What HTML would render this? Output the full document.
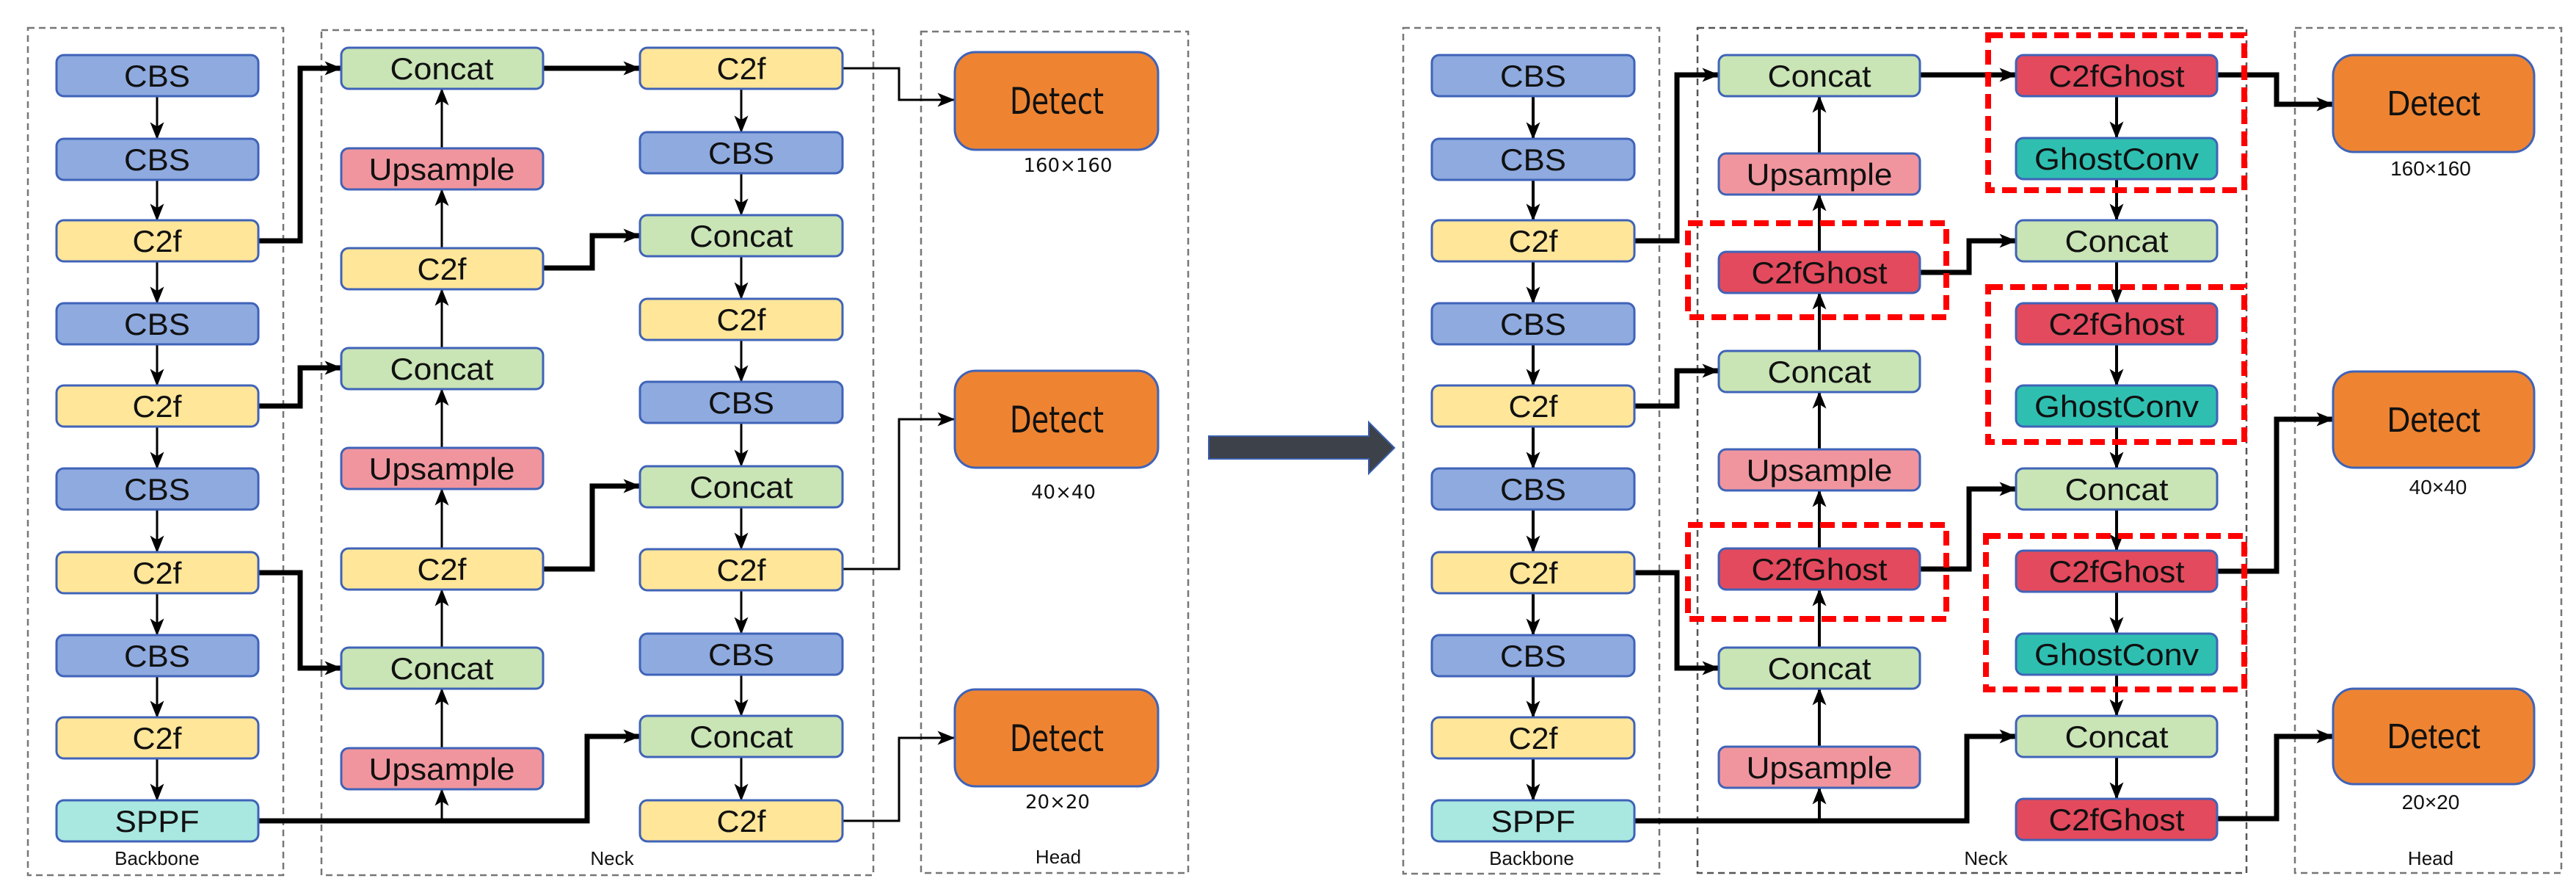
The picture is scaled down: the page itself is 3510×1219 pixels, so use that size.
<!DOCTYPE html>
<html><head><meta charset="utf-8"><style>html,body{margin:0;padding:0;background:#fff}svg{display:block}</style></head>
<body>
<svg width="3510" height="1219" viewBox="0 0 3510 1219" xmlns="http://www.w3.org/2000/svg" font-family="Liberation Sans, sans-serif">
<defs>
<marker id="a" markerWidth="10" markerHeight="10" refX="9" refY="5" orient="auto" markerUnits="userSpaceOnUse" viewBox="0 0 10 10">
</marker>
<marker id="ah" viewBox="0 0 20 16" refX="19" refY="8" markerWidth="24" markerHeight="19" orient="auto" markerUnits="userSpaceOnUse"><path d="M0,0 L20,8 L0,16 L5,8 Z" fill="#000"/></marker>
<style>
.f{fill:none;stroke:#777;stroke-width:2.5;stroke-dasharray:9 6}
.r{fill:none;stroke:#f00;stroke-width:8;stroke-dasharray:20 10}
.b{stroke:#3f63b8;stroke-width:3}
.t{font-size:42px;text-anchor:middle;fill:#111;font-family:"Liberation Sans Narrow","Liberation Sans",sans-serif}
.l{font-size:26px;text-anchor:middle;fill:#111}
.w{stroke:#000;stroke-width:3;fill:none}
.k{stroke:#000;stroke-width:7;fill:none}
.CBS{fill:#8eaadf}.C2f{fill:#ffe699}.Concat{fill:#c9e4b5}.Up{fill:#f0959e}.SPPF{fill:#a9e7e1}.CG{fill:#e34a5d}.GC{fill:#2ebfb1}.D{fill:#ee8432}
</style>
</defs>

<!-- LEFT FRAMES -->
<rect class="f" x="38" y="38" width="348" height="1154"/>
<rect class="f" x="438" y="41" width="752" height="1151"/>
<rect class="f" x="1255" y="43" width="364" height="1146"/>
<text class="l" x="214" y="1178">Backbone</text>
<text class="l" x="834" y="1178">Neck</text>
<text class="l" x="1442" y="1176">Head</text>

<!-- RIGHT FRAMES -->
<rect class="f" x="1912" y="38" width="349" height="1152"/>
<rect class="f" x="2313" y="38" width="748" height="1151" style="stroke:#555"/>
<rect class="f" x="3127" y="38" width="363" height="1151"/>
<text class="l" x="2087" y="1178">Backbone</text>
<text class="l" x="2706" y="1178">Neck</text>
<text class="l" x="3312" y="1178">Head</text>

<!-- LEFT CONNECTORS -->
<g class="w" marker-end="url(#ah)">
<path d="M214 131V189"/><path d="M214 245V300"/><path d="M214 356V413"/><path d="M214 469V525"/><path d="M214 581V638"/><path d="M214 694V752"/><path d="M214 808V865"/><path d="M214 921V977"/><path d="M214 1033V1090"/>
<path d="M602 1118V1075"/><path d="M602 1019V938"/><path d="M602 882V803"/><path d="M602 747V666"/><path d="M602 610V530"/><path d="M602 474V394"/><path d="M602 338V258"/><path d="M602 202V121"/>
<path d="M1010 121V180"/><path d="M1010 236V293"/><path d="M1010 349V407"/><path d="M1010 463V520"/><path d="M1010 576V635"/><path d="M1010 691V748"/><path d="M1010 804V863"/><path d="M1010 919V975"/><path d="M1010 1031V1090"/>
<path d="M1148 93H1225V136H1300"/><path d="M1148 775H1225V571H1300"/><path d="M1148 1118H1225V1005H1300"/>
</g>
<g class="k" marker-end="url(#ah)">
<path d="M352 328H409V93H465"/><path d="M352 553H409V501H465"/><path d="M352 780H409V910H465"/>
<path d="M352 1118H800V1003H872"/>
<path d="M740 93H872"/><path d="M740 365H807V321H872"/><path d="M740 775H807V662H872"/>
</g>

<!-- LEFT BOXES -->
<g class="b">
<rect class="CBS" x="77" y="75" width="275" height="56" rx="10"/>
<rect class="CBS" x="77" y="189" width="275" height="56" rx="10"/>
<rect class="C2f" x="77" y="300" width="275" height="56" rx="10"/>
<rect class="CBS" x="77" y="413" width="275" height="56" rx="10"/>
<rect class="C2f" x="77" y="525" width="275" height="56" rx="10"/>
<rect class="CBS" x="77" y="638" width="275" height="56" rx="10"/>
<rect class="C2f" x="77" y="752" width="275" height="56" rx="10"/>
<rect class="CBS" x="77" y="865" width="275" height="56" rx="10"/>
<rect class="C2f" x="77" y="977" width="275" height="56" rx="10"/>
<rect class="SPPF" x="77" y="1090" width="275" height="56" rx="10"/>
<rect class="Concat" x="465" y="65" width="275" height="56" rx="10"/>
<rect class="Up" x="465" y="202" width="275" height="56" rx="10"/>
<rect class="C2f" x="465" y="338" width="275" height="56" rx="10"/>
<rect class="Concat" x="465" y="474" width="275" height="56" rx="10"/>
<rect class="Up" x="465" y="610" width="275" height="56" rx="10"/>
<rect class="C2f" x="465" y="747" width="275" height="56" rx="10"/>
<rect class="Concat" x="465" y="882" width="275" height="56" rx="10"/>
<rect class="Up" x="465" y="1019" width="275" height="56" rx="10"/>
<rect class="C2f" x="872" y="65" width="276" height="56" rx="10"/>
<rect class="CBS" x="872" y="180" width="276" height="56" rx="10"/>
<rect class="Concat" x="872" y="293" width="276" height="56" rx="10"/>
<rect class="C2f" x="872" y="407" width="276" height="56" rx="10"/>
<rect class="CBS" x="872" y="520" width="276" height="56" rx="10"/>
<rect class="Concat" x="872" y="635" width="276" height="56" rx="10"/>
<rect class="C2f" x="872" y="748" width="276" height="56" rx="10"/>
<rect class="CBS" x="872" y="863" width="276" height="56" rx="10"/>
<rect class="Concat" x="872" y="975" width="276" height="56" rx="10"/>
<rect class="C2f" x="872" y="1090" width="276" height="56" rx="10"/>
<rect class="D" x="1301" y="71" width="277" height="133" rx="28"/>
<rect class="D" x="1301" y="505" width="277" height="132" rx="28"/>
<rect class="D" x="1301" y="939" width="277" height="132" rx="28"/>
</g>
<g class="t">
<text x="214" y="118" textLength="90" lengthAdjust="spacingAndGlyphs">CBS</text>
<text x="214" y="232" textLength="90" lengthAdjust="spacingAndGlyphs">CBS</text>
<text x="214" y="343" textLength="67" lengthAdjust="spacingAndGlyphs">C2f</text>
<text x="214" y="456" textLength="90" lengthAdjust="spacingAndGlyphs">CBS</text>
<text x="214" y="568" textLength="67" lengthAdjust="spacingAndGlyphs">C2f</text>
<text x="214" y="681" textLength="90" lengthAdjust="spacingAndGlyphs">CBS</text>
<text x="214" y="795" textLength="67" lengthAdjust="spacingAndGlyphs">C2f</text>
<text x="214" y="908" textLength="90" lengthAdjust="spacingAndGlyphs">CBS</text>
<text x="214" y="1020" textLength="67" lengthAdjust="spacingAndGlyphs">C2f</text>
<text x="214" y="1133" textLength="115" lengthAdjust="spacingAndGlyphs">SPPF</text>
<text x="602" y="108" textLength="141" lengthAdjust="spacingAndGlyphs">Concat</text>
<text x="602" y="245" textLength="199" lengthAdjust="spacingAndGlyphs">Upsample</text>
<text x="602" y="381" textLength="67" lengthAdjust="spacingAndGlyphs">C2f</text>
<text x="602" y="517" textLength="141" lengthAdjust="spacingAndGlyphs">Concat</text>
<text x="602" y="653" textLength="199" lengthAdjust="spacingAndGlyphs">Upsample</text>
<text x="602" y="790" textLength="67" lengthAdjust="spacingAndGlyphs">C2f</text>
<text x="602" y="925" textLength="141" lengthAdjust="spacingAndGlyphs">Concat</text>
<text x="602" y="1062" textLength="199" lengthAdjust="spacingAndGlyphs">Upsample</text>
<text x="1010" y="108" textLength="67" lengthAdjust="spacingAndGlyphs">C2f</text>
<text x="1010" y="223" textLength="90" lengthAdjust="spacingAndGlyphs">CBS</text>
<text x="1010" y="336" textLength="141" lengthAdjust="spacingAndGlyphs">Concat</text>
<text x="1010" y="450" textLength="67" lengthAdjust="spacingAndGlyphs">C2f</text>
<text x="1010" y="563" textLength="90" lengthAdjust="spacingAndGlyphs">CBS</text>
<text x="1010" y="678" textLength="141" lengthAdjust="spacingAndGlyphs">Concat</text>
<text x="1010" y="791" textLength="67" lengthAdjust="spacingAndGlyphs">C2f</text>
<text x="1010" y="906" textLength="90" lengthAdjust="spacingAndGlyphs">CBS</text>
<text x="1010" y="1018" textLength="141" lengthAdjust="spacingAndGlyphs">Concat</text>
<text x="1010" y="1133" textLength="67" lengthAdjust="spacingAndGlyphs">C2f</text>
</g>
<g font-size="50" text-anchor="middle" fill="#111" font-family="DejaVu Sans, Liberation Sans, sans-serif">
<text x="1440" y="155" textLength="128" lengthAdjust="spacingAndGlyphs">Detect</text>
<text x="1440" y="589" textLength="128" lengthAdjust="spacingAndGlyphs">Detect</text>
<text x="1440" y="1023" textLength="128" lengthAdjust="spacingAndGlyphs">Detect</text>
</g>
<g font-size="26" text-anchor="middle" fill="#111" font-family="DejaVu Sans, Liberation Sans, sans-serif">
<text x="1455" y="234">160×160</text>
<text x="1449" y="679">40×40</text>
<text x="1441" y="1101">20×20</text>
</g>

<!-- BIG ARROW -->
<path d="M1647 594H1865V575L1900 610L1865 645V625H1647Z" fill="#3d4149" stroke="#3a5fad" stroke-width="2"/>

<!-- RIGHT CONNECTORS -->
<g class="w" marker-end="url(#ah)" style="stroke-width:4">
<path d="M2089 131V189"/><path d="M2089 245V300"/><path d="M2089 356V413"/><path d="M2089 469V525"/><path d="M2089 581V638"/><path d="M2089 694V752"/><path d="M2089 808V865"/><path d="M2089 921V977"/><path d="M2089 1033V1090"/>
<path d="M2479 1118V1073"/><path d="M2479 1017V938"/><path d="M2479 882V803"/><path d="M2479 747V668"/><path d="M2479 612V534"/><path d="M2479 478V399"/><path d="M2479 343V265"/><path d="M2479 209V131"/>
<path d="M2884 131V188"/><path d="M2884 244V300"/><path d="M2884 356V413"/><path d="M2884 469V525"/><path d="M2884 581V638"/><path d="M2884 694V750"/><path d="M2884 806V863"/><path d="M2884 919V975"/><path d="M2884 1031V1088"/>
</g>
<g class="k" marker-end="url(#ah)">
<path d="M2227 328H2285V102H2342"/><path d="M2227 553H2285V505H2342"/><path d="M2227 780H2285V910H2342"/>
<path d="M2227 1118H2680V1003H2747"/>
<path d="M2616 102H2747"/><path d="M2616 371H2683V328H2747"/><path d="M2616 775H2683V666H2747"/>
<path d="M3021 102H3102V142H3179"/><path d="M3021 778H3102V571H3179"/><path d="M3021 1115H3102V1003H3179"/>
</g>

<!-- RIGHT BOXES -->
<g class="b">
<rect class="CBS" x="1951" y="75" width="276" height="56" rx="10"/>
<rect class="CBS" x="1951" y="189" width="276" height="56" rx="10"/>
<rect class="C2f" x="1951" y="300" width="276" height="56" rx="10"/>
<rect class="CBS" x="1951" y="413" width="276" height="56" rx="10"/>
<rect class="C2f" x="1951" y="525" width="276" height="56" rx="10"/>
<rect class="CBS" x="1951" y="638" width="276" height="56" rx="10"/>
<rect class="C2f" x="1951" y="752" width="276" height="56" rx="10"/>
<rect class="CBS" x="1951" y="865" width="276" height="56" rx="10"/>
<rect class="C2f" x="1951" y="977" width="276" height="56" rx="10"/>
<rect class="SPPF" x="1951" y="1090" width="276" height="56" rx="10"/>
<rect class="Concat" x="2342" y="75" width="274" height="56" rx="10"/>
<rect class="Up" x="2342" y="209" width="274" height="56" rx="10"/>
<rect class="CG" x="2342" y="343" width="274" height="56" rx="10"/>
<rect class="Concat" x="2342" y="478" width="274" height="56" rx="10"/>
<rect class="Up" x="2342" y="612" width="274" height="56" rx="10"/>
<rect class="CG" x="2342" y="747" width="274" height="56" rx="10"/>
<rect class="Concat" x="2342" y="882" width="274" height="56" rx="10"/>
<rect class="Up" x="2342" y="1017" width="274" height="56" rx="10"/>
<rect class="CG" x="2747" y="75" width="274" height="56" rx="10"/>
<rect class="GC" x="2747" y="188" width="274" height="56" rx="10"/>
<rect class="Concat" x="2747" y="300" width="274" height="56" rx="10"/>
<rect class="CG" x="2747" y="413" width="274" height="56" rx="10"/>
<rect class="GC" x="2747" y="525" width="274" height="56" rx="10"/>
<rect class="Concat" x="2747" y="638" width="274" height="56" rx="10"/>
<rect class="CG" x="2747" y="750" width="274" height="56" rx="10"/>
<rect class="GC" x="2747" y="863" width="274" height="56" rx="10"/>
<rect class="Concat" x="2747" y="975" width="274" height="56" rx="10"/>
<rect class="CG" x="2747" y="1088" width="274" height="56" rx="10"/>
<rect class="D" x="3179" y="75" width="274" height="132" rx="28"/>
<rect class="D" x="3179" y="506" width="274" height="131" rx="28"/>
<rect class="D" x="3179" y="938" width="274" height="130" rx="28"/>
</g>
<g class="t">
<text x="2089" y="118" textLength="90" lengthAdjust="spacingAndGlyphs">CBS</text>
<text x="2089" y="232" textLength="90" lengthAdjust="spacingAndGlyphs">CBS</text>
<text x="2089" y="343" textLength="67" lengthAdjust="spacingAndGlyphs">C2f</text>
<text x="2089" y="456" textLength="90" lengthAdjust="spacingAndGlyphs">CBS</text>
<text x="2089" y="568" textLength="67" lengthAdjust="spacingAndGlyphs">C2f</text>
<text x="2089" y="681" textLength="90" lengthAdjust="spacingAndGlyphs">CBS</text>
<text x="2089" y="795" textLength="67" lengthAdjust="spacingAndGlyphs">C2f</text>
<text x="2089" y="908" textLength="90" lengthAdjust="spacingAndGlyphs">CBS</text>
<text x="2089" y="1020" textLength="67" lengthAdjust="spacingAndGlyphs">C2f</text>
<text x="2089" y="1133" textLength="115" lengthAdjust="spacingAndGlyphs">SPPF</text>
<text x="2479" y="118" textLength="141" lengthAdjust="spacingAndGlyphs">Concat</text>
<text x="2479" y="252" textLength="199" lengthAdjust="spacingAndGlyphs">Upsample</text>
<text x="2479" y="386" textLength="185" lengthAdjust="spacingAndGlyphs">C2fGhost</text>
<text x="2479" y="521" textLength="141" lengthAdjust="spacingAndGlyphs">Concat</text>
<text x="2479" y="655" textLength="199" lengthAdjust="spacingAndGlyphs">Upsample</text>
<text x="2479" y="790" textLength="185" lengthAdjust="spacingAndGlyphs">C2fGhost</text>
<text x="2479" y="925" textLength="141" lengthAdjust="spacingAndGlyphs">Concat</text>
<text x="2479" y="1060" textLength="199" lengthAdjust="spacingAndGlyphs">Upsample</text>
<text x="2884" y="118" textLength="185" lengthAdjust="spacingAndGlyphs">C2fGhost</text>
<text x="2884" y="231" textLength="224" lengthAdjust="spacingAndGlyphs">GhostConv</text>
<text x="2884" y="343" textLength="141" lengthAdjust="spacingAndGlyphs">Concat</text>
<text x="2884" y="456" textLength="185" lengthAdjust="spacingAndGlyphs">C2fGhost</text>
<text x="2884" y="568" textLength="224" lengthAdjust="spacingAndGlyphs">GhostConv</text>
<text x="2884" y="681" textLength="141" lengthAdjust="spacingAndGlyphs">Concat</text>
<text x="2884" y="793" textLength="185" lengthAdjust="spacingAndGlyphs">C2fGhost</text>
<text x="2884" y="906" textLength="224" lengthAdjust="spacingAndGlyphs">GhostConv</text>
<text x="2884" y="1018" textLength="141" lengthAdjust="spacingAndGlyphs">Concat</text>
<text x="2884" y="1131" textLength="185" lengthAdjust="spacingAndGlyphs">C2fGhost</text>
<text x="3316" y="157" textLength="127" lengthAdjust="spacingAndGlyphs" style="font-size:48px">Detect</text>
<text x="3316" y="588" textLength="127" lengthAdjust="spacingAndGlyphs" style="font-size:48px">Detect</text>
<text x="3316" y="1019" textLength="127" lengthAdjust="spacingAndGlyphs" style="font-size:48px">Detect</text>
</g>
<g font-size="28" text-anchor="middle" fill="#111" font-family="Liberation Sans Narrow, Liberation Sans, sans-serif">
<text x="3312" y="239">160×160</text>
<text x="3322" y="673">40×40</text>
<text x="3312" y="1102">20×20</text>
</g>

<!-- RED DASHED -->
<rect class="r" x="2709" y="48" width="349" height="211"/>
<rect class="r" x="2300" y="304" width="352" height="128"/>
<rect class="r" x="2709" y="391" width="349" height="211"/>
<rect class="r" x="2300" y="715" width="352" height="128"/>
<rect class="r" x="2706" y="730" width="352" height="209"/>
</svg>
</body></html>
